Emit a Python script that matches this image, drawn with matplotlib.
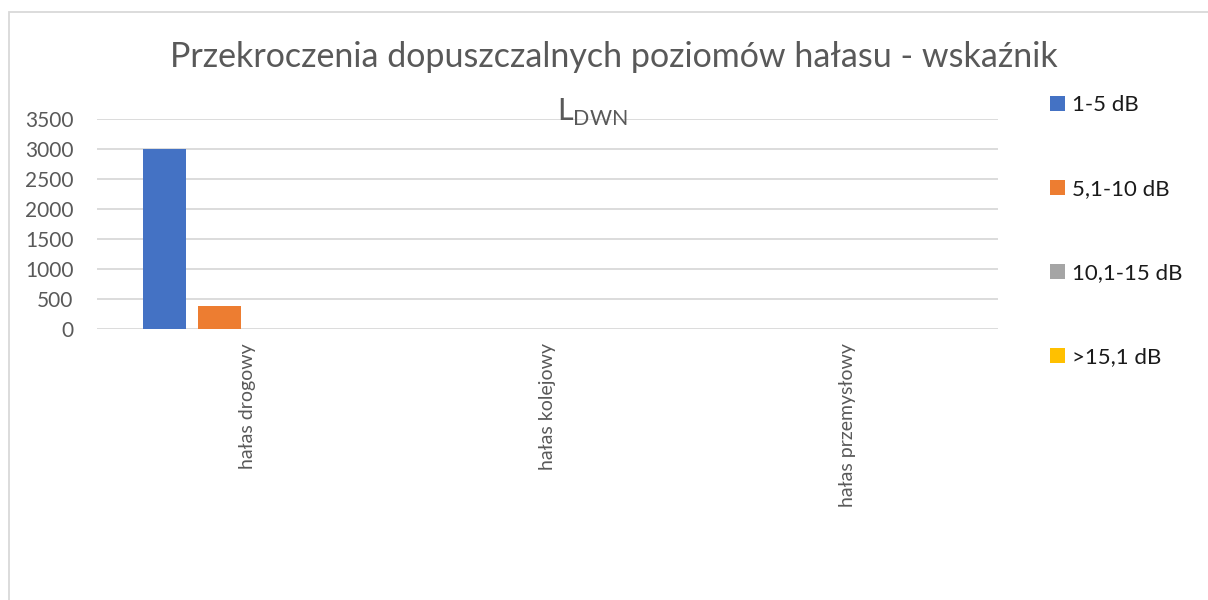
import numpy as np
import matplotlib
matplotlib.use("Agg")
import matplotlib.pyplot as plt
from matplotlib.patches import Rectangle

plt.rcParams['font.family'] = ['Lato', 'DejaVu Sans']
plt.rcParams['mathtext.fontset'] = 'custom'
plt.rcParams['mathtext.rm'] = 'Lato'

categories = ["hałas drogowy", "hałas kolejowy", "hałas przemysłowy"]
series_names = ["1-5 dB", "5,1-10 dB", "10,1-15 dB", ">15,1 dB"]
values_1_5 = [3000, 0, 0]
values_5_10 = [390, 0, 0]
values_10_15 = [0, 0, 0]
values_15_plus = [0, 0, 0]
colors = ["#4472C4", "#ED7D31", "#A5A5A5", "#FFC000"]
yticks = [0, 500, 1000, 1500, 2000, 2500, 3000, 3500]

all_values = [values_1_5, values_5_10, values_10_15, values_15_plus]

fig = plt.figure(figsize=(12.08, 6), dpi=100)
ax = fig.add_axes([97 / 1208, 1 - 329 / 600, 901 / 1208, 210 / 600])

x = np.arange(len(categories))
step = 0.1833
width = 0.1433
for i, (vals, name, col) in enumerate(zip(all_values, series_names, colors)):
    ax.bar(x + (i - 1.5) * step, vals, width, color=col, label=name, zorder=3)

ax.set_xlim(-0.5, len(categories) - 0.5)
ax.set_ylim(0, 3500)
ax.set_yticks(yticks)
ax.set_yticklabels([str(t) for t in yticks])
ax.set_xticks(x)
ax.set_xticklabels(categories, rotation=90, va="top", ha="center")
ax.tick_params(axis="y", length=0, pad=17, labelsize=15, labelcolor="#595959")
ax.tick_params(axis="x", length=0, pad=10, labelsize=14, labelcolor="#595959")
ax.grid(axis="y", color="#d9d9d9", linewidth=1.3, zorder=0)
for s in ax.spines.values():
    s.set_visible(False)

# title (wrapped like in Excel)
fig.text(614 / 1208, 1 - 57 / 600, "Przekroczenia dopuszczalnych poziomów hałasu - wskaźnik",
         ha="center", va="center", fontsize=24.5, color="#595959")
fig.text(592 / 1208, 1 - 112 / 600, r"L$_{\mathrm{DWN}}$",
         ha="center", va="center", fontsize=22, color="#595959")

leg = ax.legend(loc="upper left", bbox_to_anchor=(1050 / 1208, 1 - 95 / 600),
                bbox_transform=fig.transFigure, frameon=False, fontsize=16,
                handlelength=0.68, handleheight=0.68, handletextpad=0.32,
                labelspacing=2.88, borderpad=0, borderaxespad=0)
for t in leg.get_texts():
    t.set_color("#1a1a1a")

# chart border
fig.patches.append(Rectangle((8.5 / 1208, -0.05), 1.1, 1 - 12 / 600 + 0.05,
                             transform=fig.transFigure, fill=False,
                             edgecolor="#d9d9d9", linewidth=1.3))

fig.savefig("out.png", dpi=100)
